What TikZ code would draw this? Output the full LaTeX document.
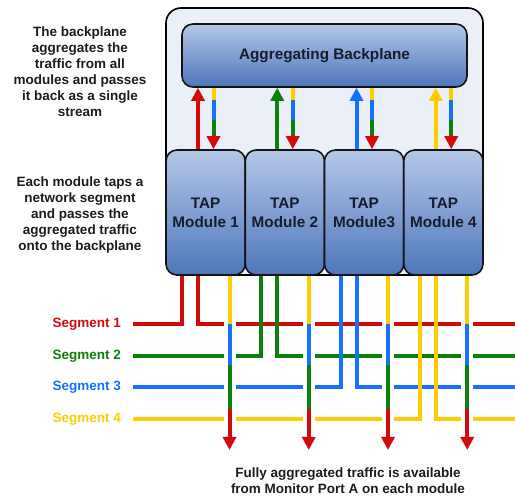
\documentclass[tikz,border=0pt]{standalone}
\usepackage{fontspec}
\setmainfont{Liberation Sans}
\usetikzlibrary{arrows.meta,calc,backgrounds}
\definecolor{cred}{HTML}{D20A0A}
\definecolor{cgreen}{HTML}{0B800B}
\definecolor{cblue}{HTML}{1470FF}
\definecolor{cyellow}{HTML}{FFCC00}
\definecolor{boxtop}{HTML}{B4C7E7}
\definecolor{boxbot}{HTML}{4C77BA}
\definecolor{panel}{HTML}{EBF0F8}
\definecolor{ink}{HTML}{1C1C1C}
\definecolor{boxink}{HTML}{151C2A}
\begin{document}
\begin{tikzpicture}[x=1pt,y=-1pt,
  panelbox/.style={draw=black, line width=1.6pt, fill=panel, rounded corners=15pt, minimum width=317pt, minimum height=267pt, inner sep=0pt},
  bluebox/.style={draw=black!92, line width=1.6pt, rounded corners=11pt, top color=boxtop, bottom color=boxbot, inner sep=0pt, text=boxink, font=\bfseries\fontsize{15.3}{19}\selectfont, align=center},
  note/.style={text=ink, font=\bfseries\fontsize{13.5}{16}\selectfont, align=center, inner sep=0pt},
  seglabel/.style={font=\bfseries\fontsize{13.5}{16}\selectfont, anchor=east, inner sep=0pt},
  seg/.style={line width=4pt, line join=miter},
  gapline/.style={line width=12pt, white},
  arr/.style={line width=4pt, -{Triangle[width=13pt,length=13pt]}},
  shaft/.style={line width=4pt}]
\useasboundingbox (0,0) rectangle (515,497);

% boxes
\node[panelbox] (outer) at (324.5,141.5) {};
\node[bluebox, minimum width=285pt, minimum height=63pt] (bp) at (324.5,55.5) {Aggregating Backplane};
\foreach \i/\txt in {1/Module 1,2/Module 2,3/Module3,4/Module 4} {
  \pgfmathsetmacro\L{166+(\i-1)*79.25}
  \node[bluebox, minimum width=79.25pt, minimum height=125pt] (m\i) at (\L+39.625,212.5) {TAP\\\txt};
  \coordinate (a\i) at (\L+16,0);
  \coordinate (b\i) at (\L+32,0);
  \coordinate (d\i) at (\L+47.5,0);
  \coordinate (c\i) at (\L+63.5,0);
}

% texts
\node[note] (txtA) at (80,71.5) {The backplane\\aggregates the\\traffic from all\\modules and passes\\it back as a single\\stream};
\node[note] (txtB) at (80,215) {Each module taps a\\network segment\\and passes the\\aggregated traffic\\onto the backplane};
\node[note] (txtC) at (348,481) {Fully aggregated traffic is available\\from Monitor Port A on each module};

\node[seglabel, text=cred] (lab1) at (121,324) {Segment 1};
\node[seglabel, text=cgreen] (lab2) at (121,356) {Segment 2};
\node[seglabel, text=cblue] (lab3) at (121,387.5) {Segment 3};
\node[seglabel, text=cyellow] (lab4) at (121,419) {Segment 4};

\coordinate (rEdge) at (515,0);
\coordinate (lvA) at (0,100);
\coordinate (lvB) at (0,120);
\coordinate (lvC) at (0,135);
\coordinate (lvD) at (0,365);
\coordinate (lvE) at (0,409);
\coordinate (lvF) at (0,450);
\coordinate (lvG) at (0,314);
\coordinate (lvH) at (0,429);

% arrows between modules and backplane
\foreach \i/\col in {1/cred,2/cgreen,3/cblue,4/cyellow} {
  \draw[arr, \col] (m\i.north -| b\i) -- (bp.south -| b\i);
  \draw[shaft, cyellow] (bp.south -| d\i) -- (lvA -| d\i);
  \draw[shaft, cblue] (lvA -| d\i) -- (lvB -| d\i);
  \draw[shaft, cgreen] (lvB -| d\i) -- (lvC -| d\i);
  \draw[arr, cred] (lvC -| d\i) -- (m\i.north -| d\i);
}

% segment lines
\begin{scope}[on background layer]
\foreach \i/\col in {1/cred,2/cgreen,3/cblue,4/cyellow} {
  \draw[seg, \col] ([xshift=12pt]lab\i.east) -| (m\i.south -| a\i);
  \draw[seg, \col] (m\i.south -| b\i) |- (rEdge |- lab\i.east);
}
\foreach \i in {1,...,4} {
  \draw[gapline] (lvG -| c\i) -- (lvH -| c\i);
  \draw[shaft, cyellow] (m\i.south -| c\i) -- (lab1.east -| c\i);
  \draw[shaft, cblue] (lab1.east -| c\i) -- (lvD -| c\i);
  \draw[shaft, cgreen] (lvD -| c\i) -- (lvE -| c\i);
  \draw[arr, cred] (lvE -| c\i) -- (lvF -| c\i);
}
\end{scope}
\end{tikzpicture}
\end{document}
